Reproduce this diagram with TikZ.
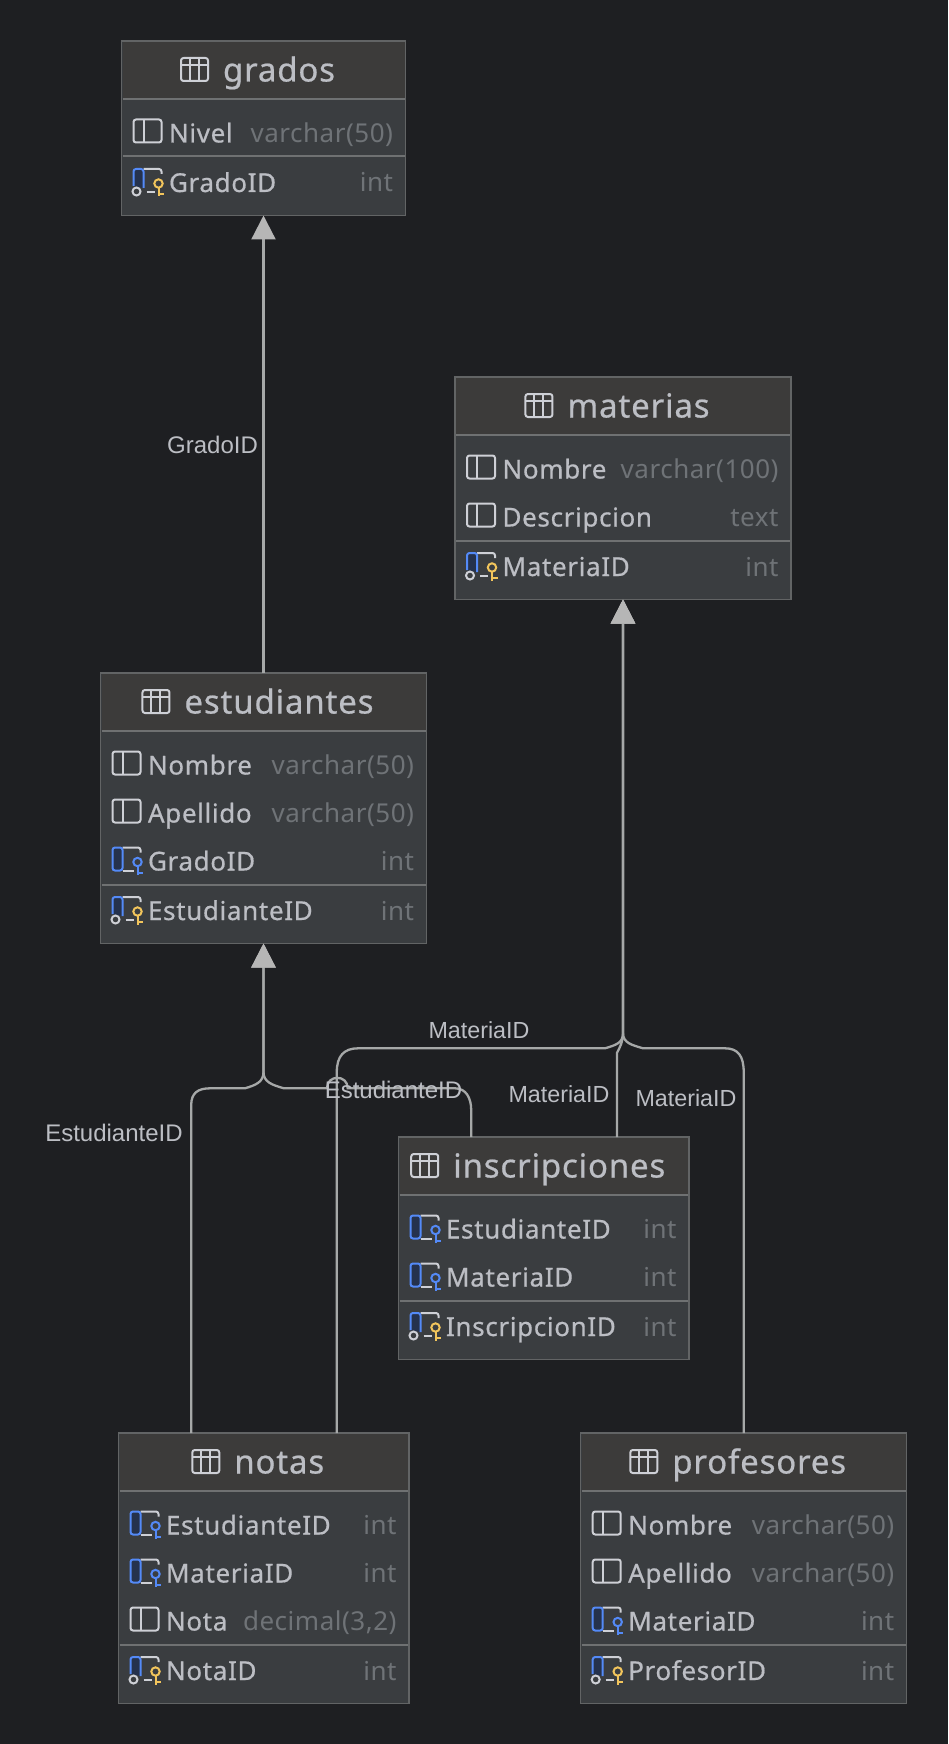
\documentclass[tikz,border=0pt]{standalone}
\usepackage{fontspec}
\usetikzlibrary{arrows.meta}
\newfontfamily\erRow[LetterSpace=2.5,FakeBold=0.6]{Noto Sans}
\newfontfamily\erType[LetterSpace=2]{Noto Sans}
\newfontfamily\erLabel{Liberation Sans}
\definecolor{bgc}{HTML}{1E1F22}
\definecolor{headc}{HTML}{3C3B3A}
\definecolor{bodyc}{HTML}{3A3D40}
\definecolor{borderc}{HTML}{626465}
\definecolor{sepc}{HTML}{6F7172}
\definecolor{textc}{HTML}{BCBEC4}
\definecolor{typec}{HTML}{6F7377}
\definecolor{iconc}{HTML}{CED0D6}
\definecolor{bluec}{HTML}{548AF7}
\definecolor{bluef}{HTML}{25324D}
\definecolor{yellowc}{HTML}{F2C55C}
\definecolor{linec}{HTML}{A6A8A8}
\definecolor{tipc}{HTML}{B6B6B6}
\tikzset{
  x=1pt,y=-1pt,
  erframe/.style={draw=borderc,fill=bodyc,line width=1.5pt,inner sep=0pt,outer sep=0pt,anchor=north west},
  ersep/.style={draw=sepc,line width=2pt},
  ertitle/.style={inner sep=0pt,outer sep=0pt,anchor=base,text=textc,font=\erRow\fontsize{33}{39}\selectfont},
  ername/.style={inner sep=0pt,outer sep=0pt,anchor=base west,text=textc,font=\erRow\fontsize{26}{31}\selectfont},
  ertype/.style={inner sep=0pt,outer sep=0pt,anchor=base east,text=typec,font=\erType\fontsize{26}{31}\selectfont},
  icn/.style={draw=iconc,line width=2pt,line join=round},
  fklabel/.style={inner sep=0pt,text=textc,font=\erLabel\fontsize{24}{29}\selectfont},
  fklabelm/.style={fklabel,font=\erLabel\fontsize{23.3}{28}\selectfont},
  rel/.style={draw=linec,line width=2.3pt,-{Triangle[length=24pt,width=24pt,fill=tipc,color=tipc]}},
}
\newcommand\erkey[3]{% x,y of top-left, colour
  \begin{scope}[shift={(#1,#2)}]
    \draw[#3,line width=2pt] (25,14.5) circle[radius=4.2pt];
    \draw[#3,line width=2pt] (25,18.7) -- (25,27.5) (25,25) -- (30.5,25);
  \end{scope}}
\newcommand\ericonc[2]{%
  \begin{scope}[shift={(#1,#2)}]
    \draw[icn,rounded corners=2.5pt] (0,0) rectangle (28,23);
    \draw[icn] (10,0) -- (10,23);
  \end{scope}}
\newcommand\ericonf[2]{%
  \begin{scope}[shift={(#1,#2)}]
    \draw[icn,rounded corners=2.5pt] (10,0) -- (28,0) -- (28,5);
    \draw[icn] (10,23) -- (21,23);
    \draw[bluec,fill=bluef,line width=2pt,rounded corners=2.5pt] (10,23) -- (0,23) -- (0,0) -- (10,0) -- cycle;
  \end{scope}
  \erkey{#1}{#2}{bluec}}
\newcommand\ericonp[2]{%
  \begin{scope}[shift={(#1,#2)}]
    \draw[icn,rounded corners=2.5pt] (10,0) -- (28,0) -- (28,5);
    \draw[icn] (13,23) -- (21,23);
    \draw[bluec,fill=bluef,line width=2pt,rounded corners=2.5pt] (10,19) -- (10,0) -- (0,0) -- (0,17);
    \draw[iconc,fill=bodyc,line width=2pt] (3,22.5) circle[radius=4pt];
  \end{scope}
  \erkey{#1}{#2}{yellowc}}
\newcommand\ericont[1]{%
  \begin{scope}[shift={(#1)}]
    \draw[icn,rounded corners=2.5pt] (0,0) rectangle (27,23);
    \draw[icn] (0,7) -- (27,7) (9,0) -- (9,23) (18,0) -- (18,23);
  \end{scope}}
% name, left, top, width, number of rows, title, rows, key column
\newcommand\erentity[8]{%
  \pgfmathsetmacro\erh{174.5+48*(#5-1)}
  \pgfmathsetmacro\erlast{#3+101.5+48*(#5-1)}
  \pgfmathsetmacro\erright{#2+#4}
  \pgfmathsetmacro\ercx{#2+#4/2}
  \node[erframe,minimum width=#4pt,minimum height=\erh pt] (#1) at (#2,#3) {};
  \fill[headc] ({#2+1},{#3+1}) rectangle ({\erright-1},{#3+57});
  \draw[ersep] ({#2+1},{#3+58}) -- ({\erright-1},{#3+58});
  \node[ertitle] (#1-title) at ({\ercx+15.5},{#3+40.5}) {#6};
  \coordinate (#1-ic) at ([xshift=-42pt,yshift=23.5pt]#1-title.base west);
  \ericont{#1-ic}
  \foreach \k/\n/\t [count=\i] in {#7} {
    \pgfmathsetmacro\erb{#3+101.5+48*(\i-1)}
    \csname ericon\k\endcsname{#2+12}{\erb-23}
    \node[ername] (#1-n\i) at ({#2+47.5},\erb) {\n};
    \node[ertype] (#1-t\i) at ({\erright-12.5},\erb) {\t};
  }
  \draw[ersep] ({#2+1},{\erlast+14}) -- ({\erright-1},{\erlast+14});
  \ericonp{#2+12}{\erlast+49.5-23}
  \node[ername] (#1-pk) at ({#2+47.5},{\erlast+49.5}) {#8};
  \node[ertype] (#1-pkt) at ({\erright-12.5},{\erlast+49.5}) {int};
}
\begin{document}
\begin{tikzpicture}
\fill[bgc] (0,0) rectangle (948,1744);
\useasboundingbox (0,0) rectangle (948,1744);
\erentity{grados}{121.5}{41}{284}{1}{grados}{c/Nivel/varchar(50)}{GradoID}
\erentity{materias}{455}{377}{336}{2}{materias}{c/Nombre/varchar(100),c/Descripcion/text}{MateriaID}
\erentity{estudiantes}{100.5}{673}{326}{3}{estudiantes}{c/Nombre/varchar(50),c/Apellido/varchar(50),f/GradoID/int}{EstudianteID}
\erentity{inscripciones}{398.5}{1137}{290.5}{2}{inscripciones}{f/EstudianteID/int,f/MateriaID/int}{InscripcionID}
\erentity{notas}{118.5}{1433}{290.5}{3}{notas}{f/EstudianteID/int,f/MateriaID/int,c/Nota/{decimal(3,2)}}{NotaID}
\erentity{profesores}{580.7}{1433}{326}{3}{profesores}{c/Nombre/varchar(50),c/Apellido/varchar(50),f/MateriaID/int}{ProfesorID}
% connectors
\draw[rel] (estudiantes.north) -- (grados.south);
\draw[rel] ([xshift=-72.5pt]notas.north) -- (191.2,1105) .. controls (191.2,1093) and (198,1088.3) .. (210,1088.3) -- (245,1088.3) .. controls (256,1085) and (263.5,1082) .. (263.5,1072) -- (estudiantes.south);
\draw[rel] ([xshift=-72.5pt]inscripciones.north) -- (471.2,1110) .. controls (471.2,1098) and (466,1088.3) .. (455,1088.3) -- (347.7,1088.3) .. controls (347.7,1074.3) and (327,1074.3) .. (327,1088.3) -- (284,1088.3) .. controls (272,1085) and (263.5,1082) .. (263.5,1072) -- (estudiantes.south);
\draw[rel] ([xshift=73pt]notas.north) -- (336.8,1072) .. controls (336.8,1056) and (344,1048.3) .. (358,1048.3) -- (605,1048.3) .. controls (616,1045) and (623,1043) .. (623,1033) -- (materias.south);
\draw[rel] ([xshift=73.2pt]inscripciones.north) -- (616.9,1053) .. controls (620,1047) and (623,1042) .. (623,1033) -- (materias.south);
\draw[rel] (profesores.north) -- (743.7,1072) .. controls (743.7,1056) and (738,1048.3) .. (725,1048.3) -- (643,1048.3) .. controls (632,1045) and (623,1043) .. (623,1033) -- (materias.south);
% labels
\node[fklabel] (l1) at (212.5,445) {GradoID};
\node[fklabel] (l2) at (114,1133) {EstudianteID};
\node[fklabel] (l3) at (393.5,1090) {EstudianteID};
\node[fklabelm] (l4) at (479,1030) {MateriaID};
\node[fklabelm] (l5) at (559,1094) {MateriaID};
\node[fklabelm] (l6) at (686,1098) {MateriaID};
\end{tikzpicture}
\end{document}
